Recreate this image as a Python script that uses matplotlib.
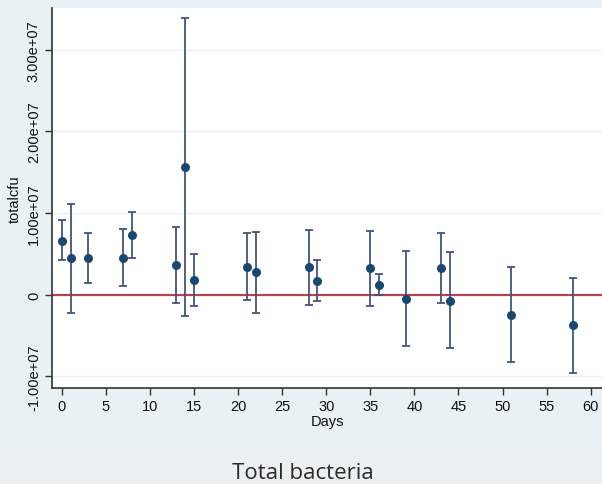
import matplotlib
matplotlib.use("Agg")
import matplotlib.pyplot as plt
from matplotlib.patches import Rectangle

# Data
days = [0, 1, 3, 7, 8, 13, 14, 15, 21, 22, 28, 29, 35, 36, 39, 43, 44, 51, 58]
mean_cfu = [0.662e7, 0.446e7, 0.446e7, 0.453e7, 0.73e7, 0.364e7, 1.561e7, 0.18e7,
            0.34e7, 0.274e7, 0.335e7, 0.172e7, 0.323e7, 0.123e7, -0.053e7, 0.327e7,
            -0.074e7, -0.245e7, -0.371e7]
upper_cfu = [0.915e7, 1.108e7, 0.76e7, 0.80e7, 1.01e7, 0.826e7, 3.39e7, 0.50e7,
             0.756e7, 0.772e7, 0.797e7, 0.42e7, 0.785e7, 0.25e7, 0.532e7, 0.756e7,
             0.52e7, 0.34e7, 0.208e7]
lower_cfu = [0.42e7, -0.224e7, 0.143e7, 0.11e7, 0.446e7, -0.098e7, -0.265e7, -0.135e7,
             -0.069e7, -0.224e7, -0.126e7, -0.081e7, -0.139e7, 0.0, -0.629e7, -0.098e7,
             -0.657e7, -0.83e7, -0.956e7]

x_ticks = list(range(0, 61, 5))
y_ticks = [-1e7, 0, 1e7, 2e7, 3e7]
y_tick_labels = ["-1.00e+07", "0", "1.00e+07", "2.00e+07", "3.00e+07"]
x_label = "Days"
y_label = "totalcfu"
caption = "Total bacteria"

W, H = 602, 485
fig = plt.figure(figsize=(W / 100, H / 100), dpi=100)
fig.patch.set_facecolor("#e8f1f3")

# caption band
fig.patches.append(Rectangle((0, 0), 1, 35 / H, transform=fig.transFigure,
                             facecolor="#eceef0", edgecolor="none", zorder=0))

ax = fig.add_axes([52 / W, 1 - 388.5 / H, 1 - 52 / W, (388.5 - 9) / H])
ax.set_facecolor("white")

ax.set_xlim(-1.10, 61.28)
ax.set_ylim(-1.137e7, 3.513e7)

for yt in y_ticks:
    ax.axhline(yt, color="#eef1f3", lw=1.0, zorder=1)

ax.axhline(0, color="#b5434f", lw=1.6, zorder=2)

yerr_low = [m - lo for m, lo in zip(mean_cfu, lower_cfu)]
yerr_high = [hi - m for m, hi in zip(mean_cfu, upper_cfu)]
ax.errorbar(days, mean_cfu, yerr=[yerr_low, yerr_high], fmt="none",
            ecolor="#44557a", elinewidth=1.3, capsize=3.0, capthick=1.3, zorder=3)
ax.plot(days, mean_cfu, "o", color="#1a476f", markersize=6.5, zorder=4,
        markeredgewidth=0)

for s in ["top", "right"]:
    ax.spines[s].set_visible(False)
for s in ["left", "bottom"]:
    ax.spines[s].set_color("#333333")
    ax.spines[s].set_linewidth(1.2)

ax.set_xticks(x_ticks)
ax.set_yticks(y_ticks)
ax.set_yticklabels(y_tick_labels, rotation=90, va="center")
ax.tick_params(axis="both", direction="out", length=5, width=1.0, color="#333333",
               labelsize=10.5, labelcolor="#111111")
ax.tick_params(axis="x", pad=3)
ax.tick_params(axis="y", pad=3)
for lab in ax.get_xticklabels() + ax.get_yticklabels():
    lab.set_family("Liberation Sans")

ax.set_xlabel(x_label, fontsize=10.5, family="Liberation Sans", color="#111111", labelpad=1)
ax.set_ylabel(y_label, fontsize=10.5, family="Liberation Sans", color="#111111", labelpad=4)

fig.text(303 / W, 1 - 479 / H, caption, ha="center", va="baseline",
         fontsize=16, family="Open Sans", color="#2b2b2b")

fig.savefig("out.png", dpi=100, facecolor=fig.get_facecolor())
